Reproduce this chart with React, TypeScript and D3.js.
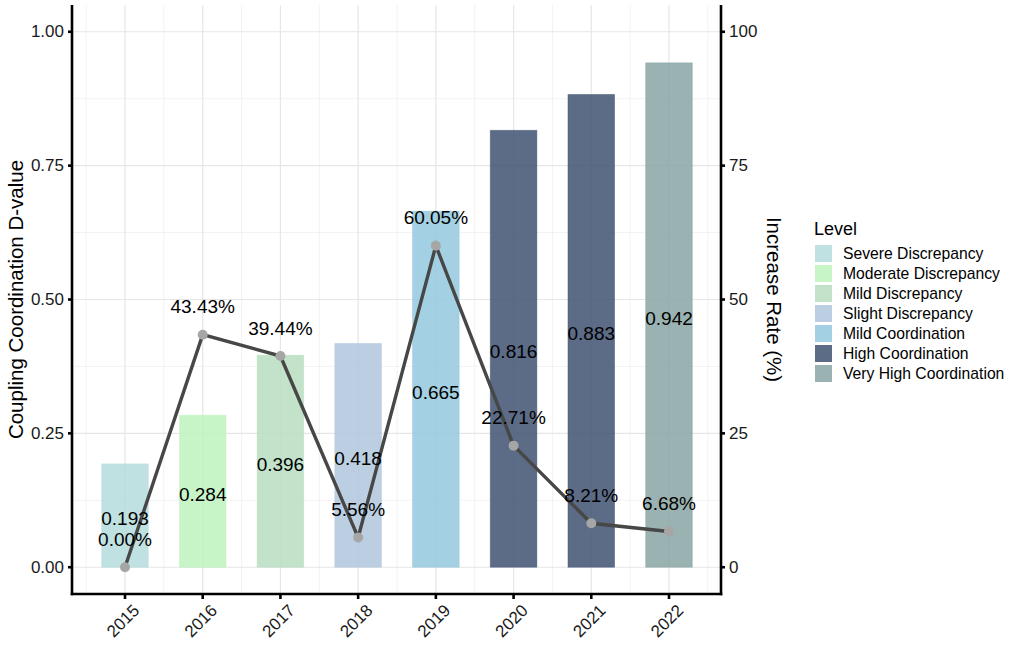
import { scaleLinear, scalePoint, line as d3_line, range } from "d3";

const years = ["2015", "2016", "2017", "2018", "2019", "2020", "2021", "2022"];
const dValues = [0.193, 0.284, 0.396, 0.418, 0.665, 0.816, 0.883, 0.942];
const increaseRates = [0.0, 43.43, 39.44, 5.56, 60.05, 22.71, 8.21, 6.68];
const levels = [
  "Severe Discrepancy",
  "Moderate Discrepancy",
  "Mild Discrepancy",
  "Slight Discrepancy",
  "Mild Coordination",
  "High Coordination",
  "High Coordination",
  "Very High Coordination",
];
const levelNames = [
  "Severe Discrepancy",
  "Moderate Discrepancy",
  "Mild Discrepancy",
  "Slight Discrepancy",
  "Mild Coordination",
  "High Coordination",
  "Very High Coordination",
];
const levelColors = ["#b4dcdc", "#bef3be", "#b7dec1", "#b0c7dd", "#93c8de", "#3f5171", "#88a4a3"];
const leftTicks = [0, 0.25, 0.5, 0.75, 1];
const rightTicks = [0, 25, 50, 75, 100];

const W = 1013;
const H = 646;
const panel = { left: 72, right: 721, top: 5, bottom: 594 };
const FONT = "'Liberation Sans', Arial, sans-serif";

export default function App() {
  const x = scalePoint<string>().domain(years).range([125, 669]);
  const step = x.step();
  const barW = step * 0.6;
  const yL = scaleLinear().domain([-0.05, 1.05]).range([panel.bottom, panel.top]);
  const yR = scaleLinear().domain([-5, 105]).range([panel.bottom, panel.top]);
  const color = (lvl: string) => levelColors[levelNames.indexOf(lvl)];

  const minorY = range(0.125, 1, 0.25);
  const minorX = range(0, years.length + 1).map((i) => x(years[0])! - step / 2 + i * step);

  const pts = years.map((yr, i) => ({ yr, v: increaseRates[i] }));
  const linePath = d3_line<(typeof pts)[number]>()
    .x((d) => x(d.yr)!)
    .y((d) => yR(d.v))(pts)!;

  return (
    <svg
      width={W}
      height={H}
      style={{ position: "absolute", left: 0, top: 0, background: "#fff", fontFamily: FONT }}
    >
      {/* grid */}
      {minorY.map((v) => (
        <line key={"my" + v} x1={panel.left} x2={panel.right} y1={yL(v)} y2={yL(v)} stroke="#efefef" strokeWidth={0.8} />
      ))}
      {minorX.map((v, i) => (
        <line key={"mx" + i} x1={v} x2={v} y1={panel.top} y2={panel.bottom} stroke="#efefef" strokeWidth={0.8} />
      ))}
      {leftTicks.map((v) => (
        <line key={"gy" + v} x1={panel.left} x2={panel.right} y1={yL(v)} y2={yL(v)} stroke="#e6e6e6" strokeWidth={1.2} />
      ))}
      {years.map((yr) => (
        <line key={"gx" + yr} x1={x(yr)} x2={x(yr)} y1={panel.top} y2={panel.bottom} stroke="#e6e6e6" strokeWidth={1.2} />
      ))}

      {/* bars */}
      {years.map((yr, i) => (
        <rect
          key={"b" + yr}
          x={x(yr)! - barW / 2}
          width={barW}
          y={yL(dValues[i])}
          height={yL(0) - yL(dValues[i])}
          fill={color(levels[i])}
          fillOpacity={0.85}
          stroke={color(levels[i])}
          strokeOpacity={0.5}
          strokeWidth={0.8}
        />
      ))}

      {/* line + points */}
      <path d={linePath} fill="none" stroke="#474747" strokeWidth={3.4} />
      {pts.map((d) => (
        <circle key={"p" + d.yr} cx={x(d.yr)} cy={yR(d.v)} r={5} fill="#a6a6a6" />
      ))}

      {/* labels */}
      {years.map((yr, i) => (
        <text
          key={"bl" + yr}
          x={x(yr)}
          y={yL(dValues[i] / 2) + 3}
          textAnchor="middle"
          dominantBaseline="central"
          fontSize={19}
          fill="#000"
        >
          {dValues[i].toFixed(3)}
        </text>
      ))}
      {pts.map((d) => (
        <text
          key={"pl" + d.yr}
          x={x(d.yr)}
          y={yR(d.v) - 28}
          textAnchor="middle"
          dominantBaseline="central"
          fontSize={19}
          fill="#000"
        >
          {d.v.toFixed(2) + "%"}
        </text>
      ))}

      {/* axes */}
      <line x1={panel.left} x2={panel.left} y1={panel.top} y2={panel.bottom + 1.3} stroke="#000" strokeWidth={2.6} />
      <line x1={panel.right} x2={panel.right} y1={panel.top} y2={panel.bottom + 1.3} stroke="#000" strokeWidth={2.6} />
      <line x1={panel.left - 1.3} x2={panel.right + 1.3} y1={panel.bottom} y2={panel.bottom} stroke="#000" strokeWidth={2.6} />

      {leftTicks.map((v) => (
        <g key={"lt" + v} transform={`translate(0,${yL(v)})`}>
          <line x1={panel.left - 4} x2={panel.left} stroke="#000" strokeWidth={2.6} />
          <text x={panel.left - 8} textAnchor="end" dominantBaseline="central" fontSize={17} fill="#1a1a1a">
            {v.toFixed(2)}
          </text>
        </g>
      ))}
      {rightTicks.map((v) => (
        <g key={"rt" + v} transform={`translate(0,${yR(v)})`}>
          <line x1={panel.right} x2={panel.right + 4} stroke="#000" strokeWidth={2.6} />
          <text x={panel.right + 8} textAnchor="start" dominantBaseline="central" fontSize={17} fill="#1a1a1a">
            {v}
          </text>
        </g>
      ))}
      {years.map((yr) => (
        <g key={"xt" + yr} transform={`translate(${x(yr)},${panel.bottom})`}>
          <line y1={0} y2={5} stroke="#000" strokeWidth={2.6} />
          <text
            transform="translate(7,9) rotate(-45)"
            textAnchor="end"
            dominantBaseline="hanging"
            fontSize={17}
            fill="#1a1a1a"
          >
            {yr}
          </text>
        </g>
      ))}

      {/* axis titles */}
      <text
        transform={`translate(15,${(panel.top + panel.bottom) / 2}) rotate(-90)`}
        textAnchor="middle"
        dominantBaseline="central"
        fontSize={20.5}
        fill="#000"
      >
        Coupling Coordination D-value
      </text>
      <text
        transform={`translate(774,${(panel.top + panel.bottom) / 2}) rotate(90)`}
        textAnchor="middle"
        dominantBaseline="central"
        fontSize={20.5}
        fill="#000"
      >
        Increase Rate (%)
      </text>

      {/* legend */}
      <text x={814} y={235} fontSize={18} fill="#000">
        Level
      </text>
      {levelNames.map((name, i) => (
        <g key={"lg" + name} transform={`translate(815,${245 + i * 20})`}>
          <rect width={17} height={17} fill={levelColors[i]} fillOpacity={0.85} />
          <text x={28} y={8.5} dominantBaseline="central" fontSize={15.7} fill="#000">
            {name}
          </text>
        </g>
      ))}
    </svg>
  );
}
